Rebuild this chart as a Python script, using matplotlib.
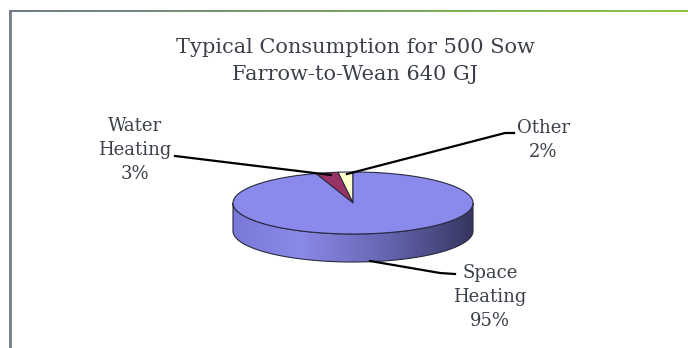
import numpy as np
import matplotlib
matplotlib.use("Agg")
import matplotlib.pyplot as plt
from matplotlib.patches import Polygon
from matplotlib.colors import LinearSegmentedColormap

# data (drawn counter-clockwise from 12 o'clock)
categories = ["Other", "Water\nHeating", "Space\nHeating"]
shares = [2, 3, 95]
colors = ["#FFFFCC", "#993366", "#8A8AEC"]
title = "Typical Consumption for 500 Sow\nFarrow-to-Wean 640 GJ"

W, H = 688, 348
fig = plt.figure(figsize=(W / 100, H / 100), dpi=100)
ax = fig.add_axes([0, 0, 1, 1])

txt_col = "#3b4049"
font = "DejaVu Serif"

# frame: grey left rule, grey->green top rule
ax.plot([9.5, 9.5], [11, H], color="#6f7c89", lw=2, solid_capstyle="butt")
rule = LinearSegmentedColormap.from_list("rule", ["#6f7c89", "#8cc63f"])
ax.imshow(np.linspace(0, 1, 256).reshape(1, -1), cmap=rule,
          extent=(9, W, 12.5, 10.5), aspect="auto", zorder=2)

# 3D pie geometry
cx, cy, a, b, depth = 353, 203, 120, 31, 28


def ell(t):
    return cx + a * np.cos(t), cy - b * np.sin(t)


# side wall (front half)
t = np.linspace(np.pi, 2 * np.pi, 200)
ex, ey = ell(t)
side = np.vstack([np.column_stack([ex, ey]),
                  np.column_stack([ex[::-1], ey[::-1] + depth])])
side_patch = Polygon(side, closed=True, facecolor="none", edgecolor="#2a2a40", lw=0.8, zorder=3)
ax.add_patch(side_patch)
cmap = LinearSegmentedColormap.from_list(
    "side", [(0, "#7878d6"), (0.28, "#8a8ae8"), (0.65, "#6464b0"), (1, "#363660")])
grad = np.linspace(0, 1, 256).reshape(1, -1)
im = ax.imshow(grad, cmap=cmap, extent=(cx - a, cx + a, cy + b + depth, cy - b),
               aspect="auto", zorder=2)
im.set_clip_path(side_patch)

# top wedges
total = float(sum(shares))
start = np.pi / 2
for val, col in zip(shares, colors):
    span = 2 * np.pi * val / total
    tt = np.linspace(start, start + span, max(int(val * 4), 10))
    wx, wy = ell(tt)
    pts = np.vstack([[cx, cy], np.column_stack([wx, wy])])
    ax.add_patch(Polygon(pts, closed=True, facecolor=col, edgecolor="#2a2a40", lw=0.8, zorder=4))
    start += span

# leader lines and labels
lw = 1.6
ax.plot([347, 505, 514], [174, 133, 133], color="black", lw=lw, zorder=5)
ax.plot([331, 175], [175, 156], color="black", lw=lw, zorder=5)
ax.plot([370, 440, 455], [261, 273, 274], color="black", lw=lw, zorder=5)

lab = dict(color=txt_col, fontsize=13, family=font, ha="center", va="center", linespacing=1.45)
ax.text(543, 140, f"{categories[0]}\n{shares[0]}%", **lab)
ax.text(135, 150, f"{categories[1]}\n{shares[1]}%", **lab)
ax.text(490, 297, f"{categories[2]}\n{shares[2]}%", **lab)

ax.text(355, 61, title, color=txt_col, fontsize=15, family=font,
        ha="center", va="center", linespacing=1.5)

ax.set_xlim(0, W)
ax.set_ylim(H, 0)
ax.axis("off")

fig.savefig("out.png", dpi=100)
